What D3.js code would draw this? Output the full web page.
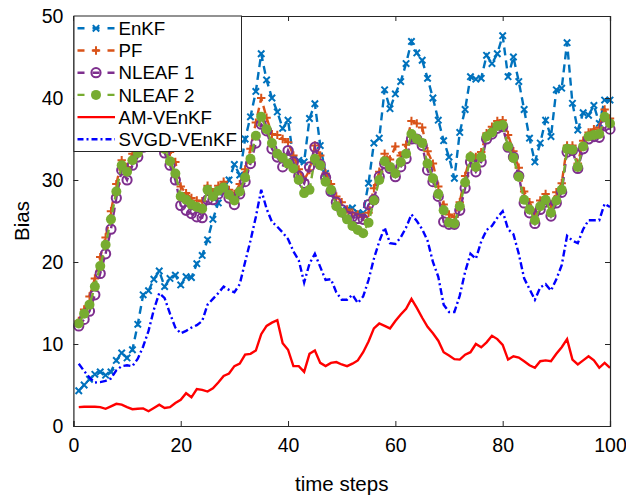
<!DOCTYPE html>
<html>
<head>
<meta charset="utf-8">
<script src="https://cdn.jsdelivr.net/npm/d3@7"></script>
<style>
  body { margin: 0; background: #fff; }
  text { font-family: "Liberation Sans", Arial, sans-serif; fill: #000; }
</style>
</head>
<body>
<div id="chart"></div>
<script>
const width = 626;
const height = 498;

// time steps 1..100
const steps = d3.range(1, 101);

const xTicks = [0, 20, 40, 60, 80, 100];
const yTicks = [0, 10, 20, 30, 40, 50];

const enkf = [4.3, 5.0, 5.7, 6.3, 6.6, 6.2, 6.6, 8.0, 8.9, 8.3,
  9.3, 12.4, 16.0, 16.5, 17.9, 18.9, 17.0, 18.0, 18.4, 17.2,
  18.2, 18.1, 19.8, 20.8, 22.7, 25.2, 27.2, 29.0, 30.0, 31.9,
  30.6, 35.0, 37.7, 40.8, 45.4, 42.2, 40.0, 38.3, 36.3, 37.3,
  32.6, 32.4, 32.2, 37.5, 39.3, 34.2, 30.8, 28.5, 26.8, 26.3,
  26.4, 26.6, 26.0, 26.0, 29.6, 34.5, 35.1, 41.0, 38.7, 40.5,
  42.0, 44.2, 46.9, 45.5, 44.6, 42.4, 40.0, 37.3, 34.8, 32.8,
  30.2, 35.8, 38.6, 42.6, 42.3, 42.4, 45.2, 44.2, 45.4, 47.6,
  42.6, 45.0, 42.0, 38.6, 35.1, 32.2, 34.5, 37.3, 35.3, 41.0,
  41.2, 46.75, 39.35, 36.1, 38.2, 37.9, 39.1, 36.9, 39.75, 39.75];

const pf = [12.8, 14.2, 15.8, 18.0, 20.6, 23.0, 26.2, 29.5, 32.4, 31.6,
  33.2, 34.0, 35.0, 36.0, 36.3, 35.8, 34.5, 33.4, 32.2, 29.2,
  28.4, 27.8, 27.5, 27.4, 29.3, 28.5, 29.3, 29.8, 28.8, 28.3,
  29.5, 31.3, 33.8, 37.0, 40.0, 37.6, 35.6, 35.5, 35.0, 34.6,
  33.0, 31.3, 30.0, 31.2, 34.2, 33.0, 30.8, 29.5, 28.0, 27.3,
  26.4, 26.0, 25.8, 25.5, 26.0, 29.0, 31.0, 33.2, 32.5, 34.1,
  33.0, 34.3, 37.2, 36.9, 36.4, 33.5, 32.0, 29.2, 27.0, 25.8,
  25.5, 27.3, 30.5, 33.0, 32.8, 33.4, 35.7, 36.5, 37.2, 37.3,
  35.5, 33.5, 31.5, 28.6, 27.3, 26.0, 27.5, 28.3, 27.0, 28.5,
  29.6, 34.2, 34.2, 32.0, 34.8, 35.8, 36.2, 36.4, 38.6, 37.5];

const nleaf1 = [12.2, 13.0, 14.0, 16.0, 18.6, 21.0, 24.0, 27.8, 31.2, 30.0,
  31.8, 32.8, 34.0, 35.0, 35.4, 34.8, 33.3, 31.8, 30.0, 26.9,
  26.3, 25.9, 25.5, 25.4, 27.6, 27.6, 28.3, 28.9, 27.8, 27.0,
  28.3, 29.8, 32.0, 34.5, 36.8, 36.0, 33.8, 32.8, 31.6, 33.6,
  32.2, 30.5, 29.6, 31.6, 34.0, 31.9, 30.3, 28.6, 27.3, 26.4,
  25.6, 25.5, 25.3, 25.2, 27.0, 27.6, 30.4, 32.0, 31.4, 30.4,
  31.6, 32.6, 35.0, 35.0, 34.2, 31.2, 29.8, 28.0, 24.9, 24.6,
  24.6, 26.3, 29.0, 32.2, 31.0, 32.2, 35.0, 35.6, 36.3, 36.5,
  34.0, 32.8, 30.5, 27.2, 26.0, 24.7, 26.4, 27.3, 25.6, 27.2,
  28.5, 33.4, 33.6, 31.4, 33.8, 35.0, 35.3, 35.2, 36.6, 36.2];

const nleaf2 = [12.5, 13.7, 14.8, 17.0, 19.5, 22.1, 25.2, 28.6, 31.8, 31.0,
  32.4, 33.3, 34.5, 35.5, 35.8, 35.2, 33.8, 32.3, 30.8, 28.0,
  27.6, 27.0, 26.7, 26.5, 28.8, 28.0, 28.7, 29.1, 28.2, 27.5,
  28.6, 30.3, 32.6, 35.4, 37.7, 36.2, 34.5, 33.2, 32.7, 32.0,
  31.4, 30.0, 28.4, 28.8, 32.6, 31.8, 29.8, 28.8, 26.8, 26.0,
  25.2, 24.4, 23.9, 23.5, 24.8, 27.5, 30.0, 32.3, 31.6, 30.8,
  32.2, 33.2, 35.6, 35.0, 34.5, 32.0, 30.2, 28.3, 26.3, 24.8,
  24.7, 26.8, 29.7, 32.8, 31.6, 32.8, 35.3, 35.8, 36.6, 36.7,
  34.1, 32.7, 30.4, 27.6, 26.4, 25.1, 26.8, 27.6, 26.0, 27.5,
  28.8, 33.8, 33.7, 31.6, 34.1, 35.3, 35.5, 35.6, 37.7, 36.9];

const amVenkf = [2.3, 2.35, 2.35, 2.35, 2.3, 2.1, 2.4, 2.7, 2.6, 2.3,
  2.05, 2.1, 2.15, 1.8, 2.2, 2.6, 2.2, 2.3, 2.8, 3.2,
  4.0, 3.5, 4.5, 4.4, 4.2, 4.6, 5.3, 6.1, 6.4, 7.3,
  7.6, 8.7, 8.8, 9.2, 11.2, 12.2, 12.6, 12.9, 10.1, 9.3,
  7.3, 7.3, 6.6, 8.8, 9.2, 7.7, 7.3, 7.7, 7.8, 7.5,
  7.3, 7.6, 8.0, 9.0, 10.3, 11.9, 12.5, 12.2, 11.9, 12.8,
  13.6, 14.3, 15.5, 14.4, 13.2, 12.1, 11.3, 10.4, 9.0, 8.6,
  8.15, 8.1, 8.7, 9.0, 10.0, 9.6, 10.2, 11.0, 10.6, 9.9,
  8.1, 8.5, 8.35, 7.9, 7.4, 7.1, 7.9, 8.0, 7.9, 8.8,
  9.6, 10.6, 8.1, 7.5, 8.0, 8.5, 8.0, 7.1, 7.7, 7.1];

const svgdVenkf = [7.6, 6.7, 5.9, 5.3, 5.35, 5.5, 5.8, 6.8, 7.3, 7.4,
  7.3, 8.2, 9.7, 11.6, 14.2, 16.2, 15.6, 13.7, 12.0, 11.3,
  11.6, 12.0, 12.3, 12.8, 14.8, 15.5, 16.2, 17.0, 16.6, 16.3,
  17.3, 20.0, 22.6, 25.5, 28.8, 26.5, 24.9, 24.3, 23.6, 22.8,
  21.3, 20.2, 17.5, 19.8, 21.0, 19.4, 17.8, 17.9, 16.3, 15.4,
  15.4, 16.0, 15.0, 15.8, 17.8, 20.4, 22.5, 24.2, 22.3, 22.2,
  23.0, 24.2, 25.8, 25.0, 24.0, 22.6, 20.0, 18.2, 14.8, 13.9,
  13.9, 15.9, 18.8, 21.0, 20.4, 22.5, 23.9, 24.4, 25.4, 26.2,
  24.0, 23.4, 21.0, 18.0, 16.7, 15.4, 16.9, 17.3, 16.5, 17.9,
  19.6, 23.2, 22.6, 22.3, 24.0, 25.1, 25.1, 25.1, 27.1, 26.7];

const seriesNames = ["EnKF", "PF", "NLEAF 1", "NLEAF 2", "AM-VEnKF", "SVGD-VEnKF"];

const series = [
  { name: seriesNames[0], values: enkf, color: "#0072BD", dash: "8,5", marker: "x" },
  { name: seriesNames[1], values: pf, color: "#D95319", dash: "8,5", marker: "plus" },
  { name: seriesNames[2], values: nleaf1, color: "#7E2F8E", dash: "8,5", marker: "circle" },
  { name: seriesNames[3], values: nleaf2, color: "#77AC30", dash: "8,5", marker: "dot" },
  { name: seriesNames[4], values: amVenkf, color: "#FF0000", dash: null, marker: null },
  { name: seriesNames[5], values: svgdVenkf, color: "#0000FF", dash: "7,3,2,3", marker: null }
];

const margin = { left: 73.4, right: 16, top: 16, bottom: 72 };

const svg = d3.select("#chart")
  .append("svg")
  .attr("width", width)
  .attr("height", height);

const xScale = d3.scaleLinear()
  .domain([0, 100])
  .range([margin.left, width - margin.right]);

const yScale = d3.scaleLinear()
  .domain([0, 50])
  .range([height - margin.bottom, margin.top]);

const x0 = xScale(0), x1 = xScale(100), y0 = yScale(0), y1 = yScale(50);

// markers
function drawMarker(g, type, color, cx, cy) {
  if (type === "x") {
    const s = 3.2;
    g.append("path")
      .attr("d", `M${cx - s},${cy - s}L${cx + s},${cy + s}M${cx - s},${cy + s}L${cx + s},${cy - s}`)
      .attr("stroke", color).attr("stroke-width", 2).attr("fill", "none");
  } else if (type === "plus") {
    const s = 4.2;
    g.append("path")
      .attr("d", `M${cx - s},${cy}L${cx + s},${cy}M${cx},${cy - s}L${cx},${cy + s}`)
      .attr("stroke", color).attr("stroke-width", 2).attr("fill", "none");
  } else if (type === "circle") {
    g.append("circle")
      .attr("cx", cx).attr("cy", cy).attr("r", 4.6)
      .attr("stroke", color).attr("stroke-width", 2).attr("fill", "none");
  } else if (type === "dot") {
    g.append("circle")
      .attr("cx", cx).attr("cy", cy).attr("r", 5)
      .attr("fill", color);
  }
}

const line = d3.line()
  .x((d, i) => xScale(steps[i]))
  .y(d => yScale(d));

series.forEach(function(s) {
  const g = svg.append("g");
  g.append("path")
    .datum(s.values)
    .attr("d", line)
    .attr("fill", "none")
    .attr("stroke", s.color)
    .attr("stroke-width", 2.4)
    .attr("stroke-dasharray", s.dash);
  if (s.marker) {
    s.values.forEach(function(v, i) {
      drawMarker(g, s.marker, s.color, xScale(steps[i]), yScale(v));
    });
  }
});

// axes box with inward ticks
const axisColor = "#262626";
const xAxis = d3.axisBottom(xScale).tickValues(xTicks).tickSize(-5).tickPadding(12);
const yAxis = d3.axisLeft(yScale).tickValues(yTicks).tickSize(-5).tickPadding(10);

const gx = svg.append("g")
  .attr("transform", "translate(0," + y0 + ")")
  .call(xAxis);
const gy = svg.append("g")
  .attr("transform", "translate(" + x0 + ",0)")
  .call(yAxis);
const gxTop = svg.append("g")
  .attr("transform", "translate(0," + y1 + ")")
  .call(d3.axisTop(xScale).tickValues(xTicks).tickSize(-5).tickFormat(""));
const gyRight = svg.append("g")
  .attr("transform", "translate(" + x1 + ",0)")
  .call(d3.axisRight(yScale).tickValues(yTicks).tickSize(-5).tickFormat(""));

[gx, gy, gxTop, gyRight].forEach(function(g) {
  g.select(".domain").attr("stroke", axisColor).attr("stroke-width", 1.2);
  g.selectAll(".tick line").attr("stroke", axisColor).attr("stroke-width", 1);
  g.selectAll(".tick text")
    .style("font-family", "'Liberation Sans', Arial, sans-serif")
    .style("font-size", "19.5px")
    .attr("fill", "#000");
});

// axis labels
svg.append("text")
  .attr("x", (x0 + x1) / 2)
  .attr("y", 491)
  .attr("text-anchor", "middle")
  .style("font-size", "20.5px")
  .text("time steps");

svg.append("text")
  .attr("transform", "translate(29," + ((y0 + y1) / 2) + ") rotate(-90)")
  .attr("text-anchor", "middle")
  .style("font-size", "20.5px")
  .text("Bias");

// legend
const legend = svg.append("g");
legend.append("rect")
  .attr("x", 74)
  .attr("y", y1)
  .attr("width", 167.5)
  .attr("height", 135.5)
  .attr("fill", "#fff")
  .attr("stroke", axisColor)
  .attr("stroke-width", 1);

series.forEach(function(s, i) {
  const ly = 28.3 + i * 22.2;
  legend.append("line")
    .attr("x1", 77.5).attr("x2", 115)
    .attr("y1", ly).attr("y2", ly)
    .attr("stroke", s.color)
    .attr("stroke-width", 2.4)
    .attr("stroke-dasharray", s.dash ? (s.marker ? "7,8,7,8,7" : "6,3,2,3") : null);
  if (s.marker) drawMarker(legend, s.marker, s.color, 96, ly);
  legend.append("text")
    .attr("x", 118.5)
    .attr("y", ly + 6.7)
    .style("font-size", "18.7px")
    .text(s.name);
});
</script>
</body>
</html>
